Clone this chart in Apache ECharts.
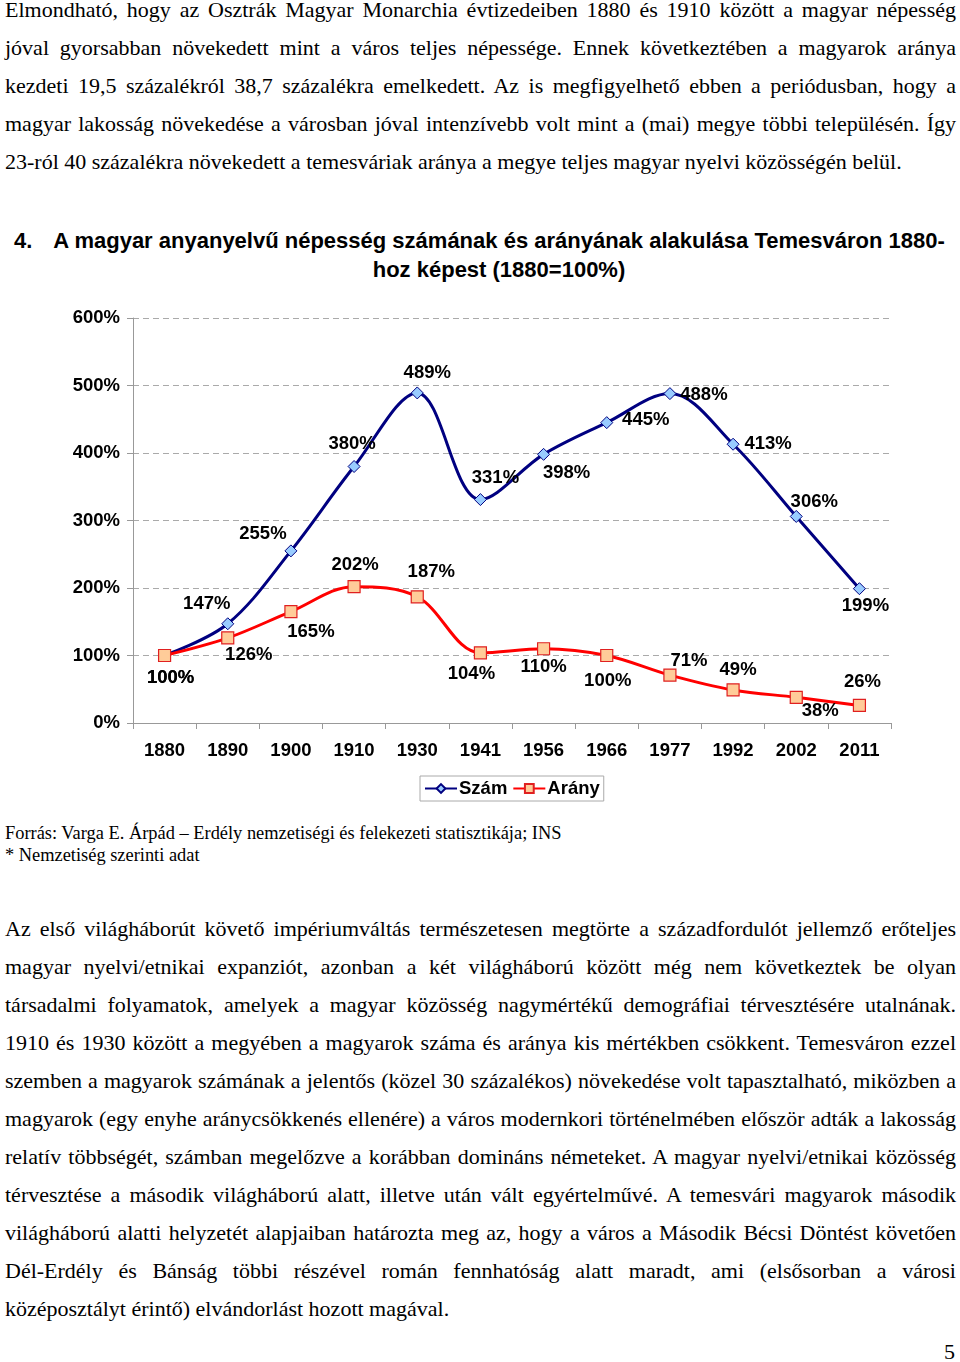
<!DOCTYPE html>
<html><head><meta charset="utf-8">
<script src="https://cdn.jsdelivr.net/npm/echarts@6/dist/echarts.min.js"></script>
<style>
html,body{margin:0;padding:0;background:#fff;}
body{width:960px;height:1362px;position:relative;overflow:hidden;font-family:"Liberation Serif","Times New Roman",serif;color:#000;}
.para{position:absolute;left:5px;width:951px;font-size:22px;line-height:38px;}
.para div{text-align:justify;text-align-last:justify;white-space:nowrap;}
.para div.last{text-align-last:left;}
.title{position:absolute;left:0;top:226px;width:960px;font-family:"Liberation Sans",Arial,sans-serif;font-weight:bold;font-size:22px;line-height:29px;}
.src{position:absolute;left:5px;top:822px;font-size:18.4px;line-height:22px;}
#chart{position:absolute;left:0;top:290px;width:960px;height:530px;}
.pg{position:absolute;left:944px;top:1339px;font-size:22px;}
</style></head>
<body>
<div class="para" style="top:-9px">
<div>Elmondható, hogy az Osztrák Magyar Monarchia évtizedeiben 1880 és 1910 között a magyar népesség</div>
<div>jóval gyorsabban növekedett mint a város teljes népessége. Ennek következtében a magyarok aránya</div>
<div>kezdeti 19,5 százalékról 38,7 százalékra emelkedett. Az is megfigyelhető ebben a periódusban, hogy a</div>
<div>magyar lakosság növekedése a városban jóval intenzívebb volt mint a (mai) megye többi településén. Így</div>
<div class="last">23-ról 40 százalékra növekedett a temesváriak aránya a megye teljes magyar nyelvi közösségén belül.</div>
</div>
<div class="title">
<div style="position:absolute;left:14px;top:0">4.</div>
<div style="position:absolute;left:52px;width:894px;top:0;text-align:center;white-space:nowrap">A magyar anyanyelvű népesség számának és arányának alakulása Temesváron 1880-</div>
<div style="position:absolute;left:52px;width:894px;top:29px;text-align:center;white-space:nowrap">hoz képest (1880=100%)</div>
</div>
<div id="chart"></div>
<div class="src">Forrás: Varga E. Árpád – Erdély nemzetiségi és felekezeti statisztikája; INS<br>* Nemzetiség szerinti adat</div>
<div class="para" style="top:910px">
<div>Az első világháborút követő impériumváltás természetesen megtörte a századfordulót jellemző erőteljes</div>
<div>magyar nyelvi/etnikai expanziót, azonban a két világháború között még nem következtek be olyan</div>
<div>társadalmi folyamatok, amelyek a magyar közösség nagymértékű demográfiai térvesztésére utalnának.</div>
<div>1910 és 1930 között a megyében a magyarok száma és aránya kis mértékben csökkent. Temesváron ezzel</div>
<div>szemben a magyarok számának a jelentős (közel 30 százalékos) növekedése volt tapasztalható, miközben a</div>
<div>magyarok (egy enyhe aránycsökkenés ellenére) a város modernkori történelmében először adták a lakosság</div>
<div>relatív többségét, számban megelőzve a korábban domináns németeket. A magyar nyelvi/etnikai közösség</div>
<div>térvesztése a második világháború alatt, illetve után vált egyértelművé. A temesvári magyarok második</div>
<div>világháború alatti helyzetét alapjaiban határozta meg az, hogy a város a Második Bécsi Döntést követően</div>
<div>Dél-Erdély és Bánság többi részével román fennhatóság alatt maradt, ami (elsősorban a városi</div>
<div class="last">középosztályt érintő) elvándorlást hozott magával.</div>
</div>
<div class="pg">5</div>
<script>
const years = ['1880','1890','1900','1910','1930','1941','1956','1966','1977','1992','2002','2011'];
const szam = [100,147,255,380,489,331,398,445,488,413,306,199];
const arany = [100,126,165,202,187,104,110,100,71,49,38,26];
const seriesNames = ['Szám','Arány'];
// label offsets (pixels) relative to each point
const szamLabelOffsets = [[6,22],[-21,-20],[-28,-17],[-2,-23],[10,-20],[15,-22],[23,19],[39,-3],[34,1],[35,0],[18,-15],[6,17]];
const aranyLabelOffsets = [[6,22],[21,17],[20,20],[1,-22],[14,-25],[-9,21],[0,18],[1,25],[19,-14],[5,-20],[24,14],[3,-24]];

const labelFont = {fontFamily:'Liberation Sans, Arial, sans-serif',fontWeight:'bold',fontSize:18.5,color:'#000'};
function mk(vals, offs){
  return vals.map((v,i)=>({value:v,label:{show:true,position:'inside',offset:offs[i],formatter:'{c}%',...labelFont}}));
}
const chart = echarts.init(document.getElementById('chart'));
chart.setOption({
  animation:false,
  grid:{left:133,right:69,top:28,bottom:97},
  legend:{
    data:seriesNames,left:420,top:486,
    borderColor:'#aaa',borderWidth:1,padding:[3,4,3,4],
    itemWidth:32,itemHeight:11,itemGap:5,
    textStyle:{...labelFont,padding:[0,0,0,-3]}
  },
  xAxis:{
    type:'category',data:years,boundaryGap:true,
    axisLine:{lineStyle:{color:'#999',width:1}},
    axisTick:{show:true,length:6,lineStyle:{color:'#999'}},
    axisLabel:{...labelFont,margin:18}
  },
  yAxis:{
    type:'value',min:0,max:600,interval:100,
    axisLine:{show:true,lineStyle:{color:'#999',width:1}},
    axisTick:{show:true,length:6,lineStyle:{color:'#999'}},
    splitLine:{lineStyle:{color:'#aaa',type:[6,4],width:1}},
    axisLabel:{...labelFont,margin:13,formatter:'{value}%'}
  },
  series:[
    {name:seriesNames[0],type:'line',data:mk(szam,szamLabelOffsets),smooth:0.35,
     lineStyle:{color:'#000080',width:3},itemStyle:{color:'#99CCFF',borderColor:'#000080',borderWidth:1},
     symbol:'diamond',symbolSize:12,z:2},
    {name:seriesNames[1],type:'line',data:mk(arany,aranyLabelOffsets),smooth:0.35,
     lineStyle:{color:'#FF0000',width:3},itemStyle:{color:'#FFCC99',borderColor:'#E02020',borderWidth:1.2},
     symbol:'rect',symbolSize:12,z:3}
  ]
});
</script>
</body></html>
